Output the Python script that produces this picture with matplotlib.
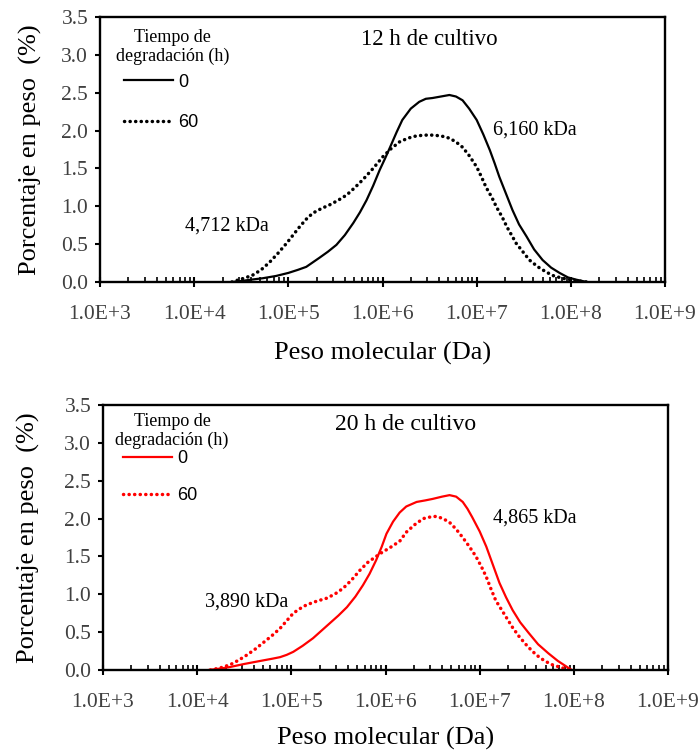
#!/usr/bin/env python3
# Distribución de peso molecular, 12 h y 20 h de cultivo

import numpy as np
import matplotlib
matplotlib.use('Agg')
import matplotlib.pyplot as plt
from matplotlib.ticker import FixedLocator, LogLocator, FuncFormatter

plt.rcParams['font.family'] = ['Liberation Serif', 'DejaVu Serif']

# log10 del peso molecular (Da) y porcentaje en peso
# --- 12 h de cultivo ---
log_pm_12_0 = [4.40, 4.48, 4.60, 4.73, 4.87, 5.00, 5.10, 5.19, 5.26, 5.33,
               5.42, 5.51, 5.60, 5.69, 5.76, 5.83, 5.90, 5.97, 6.03, 6.08,
               6.15, 6.21, 6.30, 6.39, 6.46, 6.53, 6.62, 6.71, 6.78, 6.85,
               6.92, 7.00, 7.07, 7.14, 7.19, 7.24, 7.31, 7.38, 7.45, 7.53,
               7.61, 7.70, 7.79, 7.88, 7.97, 8.06, 8.17]
pct_12_0 = [0.00, 0.01, 0.03, 0.05, 0.08, 0.12, 0.16, 0.20, 0.26, 0.32,
            0.40, 0.49, 0.62, 0.78, 0.92, 1.08, 1.27, 1.48, 1.64, 1.78,
            1.98, 2.14, 2.29, 2.38, 2.42, 2.43, 2.45, 2.47, 2.45, 2.40,
            2.29, 2.14, 1.95, 1.74, 1.57, 1.39, 1.17, 0.95, 0.76, 0.60,
            0.43, 0.29, 0.19, 0.12, 0.06, 0.03, 0.00]

log_pm_12_60 = [4.40, 4.45, 4.53, 4.62, 4.71, 4.80, 4.89, 4.98, 5.05, 5.12,
                5.19, 5.26, 5.35, 5.44, 5.53, 5.62, 5.70, 5.79, 5.90, 6.00,
                6.09, 6.18, 6.27, 6.36, 6.45, 6.53, 6.62, 6.71, 6.78, 6.85,
                6.92, 7.00, 7.05, 7.10, 7.16, 7.21, 7.27, 7.32, 7.37, 7.42,
                7.49, 7.56, 7.65, 7.74, 7.82, 7.91, 8.04, 8.17]
pct_12_60 = [0.00, 0.02, 0.05, 0.09, 0.16, 0.26, 0.38, 0.51, 0.62, 0.73,
             0.83, 0.91, 0.97, 1.02, 1.08, 1.15, 1.24, 1.35, 1.50, 1.65,
             1.76, 1.85, 1.90, 1.93, 1.94, 1.94, 1.93, 1.90, 1.85, 1.78,
             1.67, 1.52, 1.39, 1.25, 1.12, 0.99, 0.86, 0.73, 0.62, 0.51,
             0.40, 0.29, 0.20, 0.13, 0.08, 0.05, 0.02, 0.00]

# --- 20 h de cultivo ---
log_pm_20_0 = [4.12, 4.25, 4.35, 4.50, 4.67, 4.80, 4.88, 4.95, 5.02, 5.12,
               5.23, 5.32, 5.41, 5.50, 5.59, 5.68, 5.76, 5.83, 5.90, 5.96,
               6.01, 6.08, 6.15, 6.22, 6.33, 6.42, 6.50, 6.60, 6.68, 6.75,
               6.82, 6.87, 6.92, 7.00, 7.07, 7.14, 7.21, 7.28, 7.35, 7.43,
               7.52, 7.62, 7.73, 7.83, 7.94, 7.98]
pct_20_0 = [0.00, 0.02, 0.04, 0.08, 0.12, 0.15, 0.17, 0.20, 0.24, 0.32,
            0.42, 0.52, 0.62, 0.72, 0.83, 0.97, 1.12, 1.27, 1.45, 1.63,
            1.80, 1.96, 2.08, 2.16, 2.22, 2.24, 2.26, 2.29, 2.31, 2.29,
            2.22, 2.13, 2.02, 1.83, 1.63, 1.39, 1.15, 0.96, 0.79, 0.63,
            0.49, 0.34, 0.22, 0.12, 0.03, 0.00]

log_pm_20_60 = [4.14, 4.25, 4.35, 4.44, 4.53, 4.62, 4.70, 4.79, 4.88, 4.95,
                5.02, 5.09, 5.16, 5.27, 5.38, 5.47, 5.55, 5.64, 5.73, 5.81,
                5.90, 5.97, 6.04, 6.10, 6.15, 6.22, 6.31, 6.40, 6.47, 6.54,
                6.61, 6.68, 6.75, 6.82, 6.89, 6.96, 7.02, 7.07, 7.12, 7.17,
                7.23, 7.28, 7.35, 7.42, 7.51, 7.60, 7.69, 7.77, 7.87, 7.97]
pct_20_60 = [0.00, 0.03, 0.07, 0.13, 0.20, 0.28, 0.36, 0.45, 0.55, 0.65,
             0.75, 0.81, 0.86, 0.91, 0.95, 1.01, 1.08, 1.19, 1.32, 1.42,
             1.50, 1.56, 1.61, 1.66, 1.70, 1.82, 1.92, 2.00, 2.02, 2.03,
             2.00, 1.95, 1.86, 1.75, 1.63, 1.50, 1.36, 1.23, 1.07, 0.92,
             0.80, 0.70, 0.56, 0.44, 0.31, 0.20, 0.12, 0.07, 0.03, 0.00]

x_ticks = [1e3, 1e4, 1e5, 1e6, 1e7, 1e8, 1e9]
y_ticks = [0.0, 0.5, 1.0, 1.5, 2.0, 2.5, 3.0, 3.5]
etiquetas_leyenda = ['0', '60']
titulo_leyenda = 'Tiempo de\ndegradación (h)'


def formato_x(v, pos):
    return '1.0E+%d' % round(np.log10(v))


def preparar_ejes(ax):
    ax.set_xscale('log')
    ax.set_xlim(1e3, 1e9)
    ax.set_ylim(0, 3.5)
    ax.xaxis.set_major_locator(FixedLocator(x_ticks))
    ax.xaxis.set_minor_locator(LogLocator(base=10, subs=np.arange(2, 10), numticks=20))
    ax.xaxis.set_major_formatter(FuncFormatter(formato_x))
    ax.xaxis.set_minor_formatter(FuncFormatter(lambda v, p: ''))
    ax.set_yticks(y_ticks)
    ax.yaxis.set_major_formatter(FuncFormatter(lambda v, p: '%.1f' % v))
    for s in ax.spines.values():
        s.set_linewidth(1.7)
        s.set_color('black')
    ax.tick_params(axis='x', which='major', direction='inout', length=7, width=1.5,
                   labelsize=15.5, labelcolor='#404040', pad=13)
    ax.tick_params(axis='x', which='minor', direction='in', length=3.5, width=1.2)
    ax.tick_params(axis='y', which='major', direction='out', length=3.5, width=1.5,
                   labelsize=15.5, labelcolor='#404040', pad=5)
    ax.set_xlabel('Peso molecular (Da)', fontsize=19)
    ax.set_ylabel('Porcentaje en peso  (%)', fontsize=19)


def dibujar(ax, pm0, y0, pm60, y60, color, pos_titulo, pos_leyenda, espacio):
    ax.plot(np.power(10.0, pm0), y0, color=color, lw=1.6, label=etiquetas_leyenda[0])
    ax.plot(np.power(10.0, pm60), y60, color=color, lw=2.5, linestyle=(0, (0.05, 1.55)),
            dash_capstyle='round', label=etiquetas_leyenda[1])
    ax.text(pos_titulo[0], pos_titulo[1], titulo_leyenda, transform=ax.transAxes,
            fontsize=13, ha='center', va='center', multialignment='center',
            linespacing=1.12)
    ax.legend(loc='upper left', bbox_to_anchor=pos_leyenda, frameon=False,
              prop={'family': 'Liberation Sans', 'size': 13},
              handlelength=2.7, handletextpad=0.3, labelspacing=espacio,
              borderpad=0, borderaxespad=0)


fig = plt.figure(figsize=(6.99, 7.53), dpi=100)
ax1 = fig.add_axes([0.1431, 0.6255, 0.8083, 0.3519])
ax2 = fig.add_axes([0.1474, 0.1102, 0.8083, 0.3519])

# panel superior
preparar_ejes(ax1)
dibujar(ax1, log_pm_12_0, pct_12_0, log_pm_12_60, pct_12_60, 'black',
        (0.129, 0.886), (0.042, 0.786), 1.28)
ax1.text(0.462, 0.915, '12 h de cultivo', transform=ax1.transAxes, fontsize=16.5,
         ha='left', va='center')
ax1.text(0.696, 0.575, '6,160 kDa', transform=ax1.transAxes, fontsize=14.5,
         ha='left', va='center')
ax1.text(0.150, 0.210, '4,712 kDa', transform=ax1.transAxes, fontsize=14.5,
         ha='left', va='center')
ax1.yaxis.set_label_coords(-0.103, 0.5)
ax1.xaxis.set_label_coords(0.5, -0.225)

# panel inferior
preparar_ejes(ax2)
dibujar(ax2, log_pm_20_0, pct_20_0, log_pm_20_60, pct_20_60, '#ff0000',
        (0.122, 0.902), (0.035, 0.830), 1.12)
ax2.text(0.411, 0.925, '20 h de cultivo', transform=ax2.transAxes, fontsize=17,
         ha='left', va='center')
ax2.text(0.690, 0.575, '4,865 kDa', transform=ax2.transAxes, fontsize=14.5,
         ha='left', va='center')
ax2.text(0.181, 0.257, '3,890 kDa', transform=ax2.transAxes, fontsize=14.5,
         ha='left', va='center')
ax2.yaxis.set_label_coords(-0.111, 0.5)
ax2.xaxis.set_label_coords(0.5, -0.215)

fig.savefig('out.png', dpi=100)
